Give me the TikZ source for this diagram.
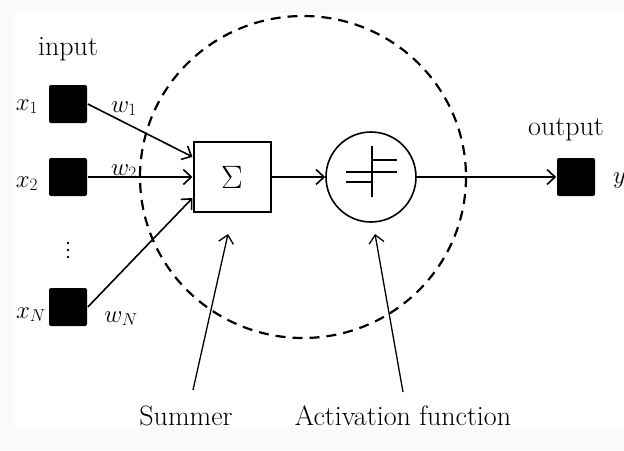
\documentclass[tikz,border=0pt]{standalone}
\usepackage{graphicx}
\usetikzlibrary{arrows.meta}
\tikzset{
  inbox/.style={fill=black, rounded corners=2pt, minimum size=38pt, inner sep=0pt},
  sumbox/.style={draw, line width=2pt, minimum width=77pt, minimum height=70pt, inner sep=0pt},
  actcirc/.style={draw, circle, minimum size=90pt, inner sep=0pt},
  pointer/.style={->, line width=1.3pt},
  mathlbl/.style={anchor=base, font=\fontsize{25}{30}\selectfont},
}
\begin{document}
\begin{tikzpicture}[x=1pt, y=-1pt, line width=1.6pt,
    font=\fontsize{28}{33}\selectfont,
    >={Straight Barb[length=8pt,width=15pt]}]
  % Fond
  \useasboundingbox (0,0) rectangle (624,450);
  \fill[gray!4] (0,0) rectangle (624,450);
  \fill[white] (14,13) rectangle (624,427);

  % Neurone (limite)
  \draw[line width=2.2pt, dash pattern=on 10pt off 7pt] (303,177) ellipse [x radius=163, y radius=161];

  % Entrees
  \node[inbox] (x1) at (68,104) {};
  \node[inbox] (x2) at (68,177) {};
  \node[inbox] (xN) at (68,307) {};
  \node[anchor=base] (inlbl) at (68,55) {input};
  \node[mathlbl] (x1lbl) at (27,110) {$x_1$};
  \node[mathlbl] (x2lbl) at (27,187) {$x_2$};
  \node[mathlbl] (xNlbl) at (31,318) {$x_N$};
  \foreach \dy in {-7,0,7} \fill (68,250+\dy) circle (1.4);

  % Sommateur et activation
  \node[sumbox] (sum) at (232,177) {\scalebox{1.3}{$\Sigma$}};
  \node[actcirc] (act) at (371,177) {};
  \draw ([shift={(1,-31)}]act.center) -- ([shift={(1,20)}]act.center);
  \draw ([shift={(1,-17)}]act.center) -- ++(25,0);
  \draw ([shift={(-25,-5)}]act.center) -- ++(51,0);
  \draw ([shift={(-25,5)}]act.center) -- ++(26,0);

  % Poids
  \draw[->] (x1.east) -- (sum.153);
  \draw[->] (x2.east) -- (sum.west);
  \draw[->] (xN.east) -- (sum.208);
  \node[mathlbl] (w1) at (124,112) {$w_1$};
  \node[mathlbl] (w2) at (124,175) {$w_2$};
  \node[mathlbl] (wN) at (121,322) {$w_N$};

  % Sortie
  \node[inbox] (y) at (576,177) {};
  \node[anchor=base] (outlbl) at (566,135) {output};
  \node[mathlbl, anchor=base west] (ylbl) at (609,183) {$y$};
  \draw[->] (sum.east) -- (act.west);
  \draw[->] (act.east) -- (y.west);

  % Legendes
  \node[anchor=base] (sumlbl) at (186,425) {Summer};
  \node[anchor=base] (actlbl) at (403,425) {Activation function};
  \coordinate (sumfoot) at (193,390);
  \coordinate (sumtip) at (228,234);
  \coordinate (actfoot) at (403,392);
  \coordinate (acttip) at (375,234);
  \draw[pointer] (sumfoot) -- (sumtip);
  \draw[pointer] (actfoot) -- (acttip);
\end{tikzpicture}
\end{document}
